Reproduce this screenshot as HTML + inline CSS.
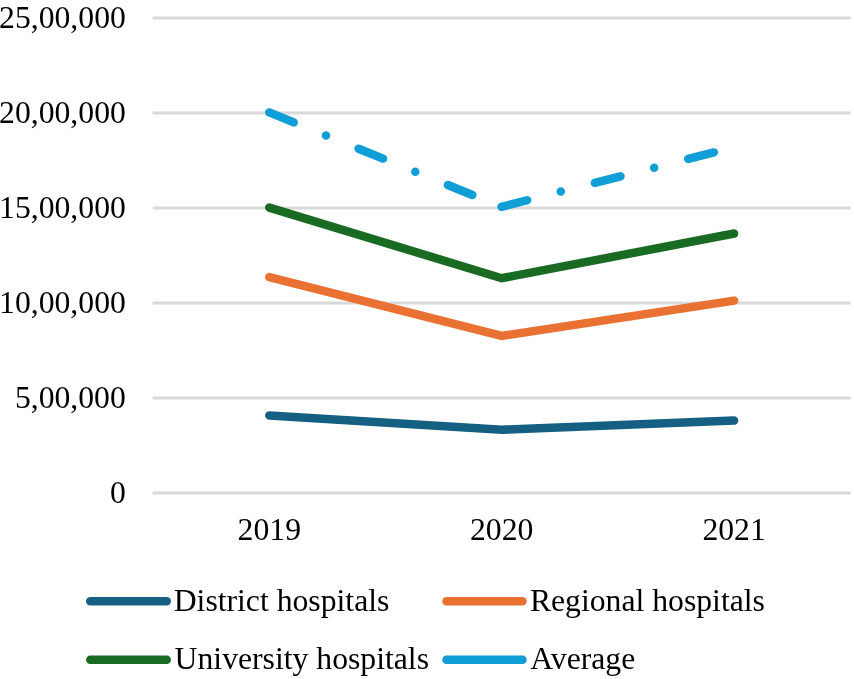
<!DOCTYPE html>
<html>
<head>
<meta charset="utf-8">
<style>
html,body{margin:0;padding:0;background:#fff;}
body{width:854px;height:679px;overflow:hidden;}
svg{display:block;will-change:transform;}
text{font-family:"Liberation Serif",serif;font-size:31.7px;fill:#000;}
</style>
</head>
<body>
<svg width="854" height="679" viewBox="0 0 854 679">
<g stroke="#d9d9d9" stroke-width="3">
<line x1="152.6" y1="18" x2="850.6" y2="18"/>
<line x1="152.6" y1="113" x2="850.6" y2="113"/>
<line x1="152.6" y1="208" x2="850.6" y2="208"/>
<line x1="152.6" y1="303" x2="850.6" y2="303"/>
<line x1="152.6" y1="398" x2="850.6" y2="398"/>
<line x1="152.6" y1="493" x2="850.6" y2="493"/>
</g>
<g text-anchor="end">
<text x="125.8" y="28">25,00,000</text>
<text x="125.8" y="123">20,00,000</text>
<text x="125.8" y="218">15,00,000</text>
<text x="125.8" y="313">10,00,000</text>
<text x="125.8" y="408">5,00,000</text>
<text x="125.8" y="502.8">0</text>
</g>
<g text-anchor="middle">
<text x="269.3" y="540.3">2019</text>
<text x="501.7" y="540.3">2020</text>
<text x="734.1" y="540.3">2021</text>
</g>
<g fill="none" stroke-width="8.5" stroke-linecap="round" stroke-linejoin="miter">
<polyline stroke="#156082" points="269.3,415.4 501.7,429.7 734.1,420.6"/>
<polyline stroke="#E97132" points="269.3,277.1 501.7,335.9 734.1,300.6"/>
<polyline stroke="#196B24" points="269.3,207.6 501.7,278.2 734.1,233.5"/>
<g stroke="#0F9ED5" stroke-dasharray="26.4 34.8 0 35.2">
<line x1="269.3" y1="112.4" x2="501.5" y2="206.8"/>
<line x1="501.5" y1="206.8" x2="734.1" y2="147.2"/>
</g>
</g>
<g stroke-width="8.5" stroke-linecap="round">
<line x1="90.3" y1="601.3" x2="166.7" y2="601.3" stroke="#156082"/>
<line x1="446.5" y1="601.3" x2="522.5" y2="601.3" stroke="#E97132"/>
<line x1="90.3" y1="659.7" x2="166.7" y2="659.7" stroke="#196B24"/>
<line x1="446.5" y1="659.7" x2="522.5" y2="659.7" stroke="#0F9ED5"/>
</g>
<text x="173.7" y="610.9">District hospitals</text>
<text x="529.9" y="610.9">Regional hospitals</text>
<text x="174.6" y="668.8">University hospitals</text>
<text x="530.3" y="668.8">Average</text>
</svg>
</body>
</html>
